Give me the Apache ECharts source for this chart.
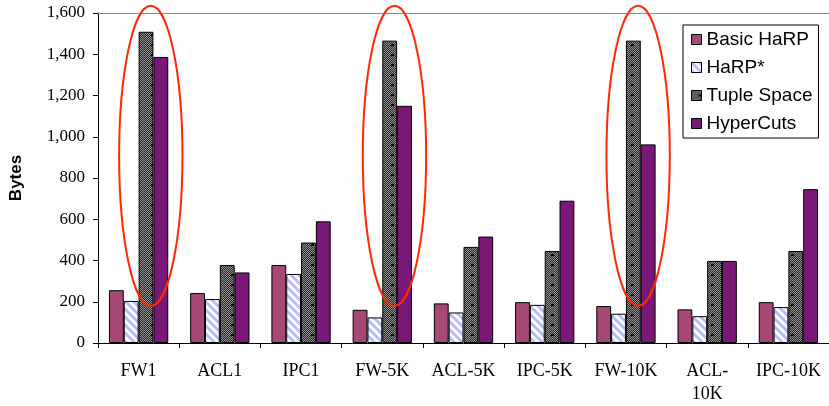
<!DOCTYPE html>
<html>
<head>
<meta charset="utf-8">
<script src="https://cdn.jsdelivr.net/npm/echarts@6/dist/echarts.min.js"></script>
<style>
html,body{margin:0;padding:0;background:#fff;}
#chart{width:829px;height:406px;}
</style>
</head>
<body>
<div id="chart"></div>
<script>
// ---- data ----
const categories = ['FW1', 'ACL1', 'IPC1', 'FW-5K', 'ACL-5K', 'IPC-5K', 'FW-10K', 'ACL-10K', 'IPC-10K'];
const seriesNames = ['Basic HaRP', 'HaRP*', 'Tuple Space', 'HyperCuts'];
const basicHarp  = [256, 242, 378, 161, 192, 198, 179, 163, 198];
const harpStar   = [204, 213, 335, 124, 148, 185, 142, 130, 174];
const tupleSpace = [1509, 378, 487, 1466, 466, 446, 1466, 398, 446];
const hyperCuts  = [1387, 342, 590, 1150, 516, 690, 963, 398, 746];
const yMin = 0, yMax = 1600, yStep = 200;
const highlightedGroups = ['FW1', 'FW-5K', 'FW-10K'];
const highlightRange = [180, 1635];
const wrappedLabels = {'ACL-10K': 'ACL-\n10K'};

// ---- patterns ----
function stripePattern() {
  const c = document.createElement('canvas');
  c.width = 8; c.height = 8;
  const g = c.getContext('2d');
  g.fillStyle = '#ffffff'; g.fillRect(0, 0, 8, 8);
  g.strokeStyle = '#b4bcff'; g.lineWidth = 3;
  [-8, 0, 8].forEach(o => { g.beginPath(); g.moveTo(o - 1, -1); g.lineTo(o + 9, 9); g.stroke(); });
  return {image: c, repeat: 'repeat'};
}
function checkerPattern() {
  const c = document.createElement('canvas');
  c.width = 16; c.height = 10;
  const g = c.getContext('2d');
  for (let x = 0; x < 16; x++) for (let y = 0; y < 10; y++) {
    g.fillStyle = (x + y) % 2 ? '#2c2c2c' : '#8e8e8e';
    g.fillRect(x, y, 1, 1);
  }
  g.fillStyle = '#000'; g.fillRect(7, 4, 3, 2);
  return {image: c, repeat: 'repeat'};
}

const colors = ['#a64876', stripePattern(), checkerPattern(), '#7a1877'];
const values = [basicHarp, harpStar, tupleSpace, hyperCuts];

const chart = echarts.init(document.getElementById('chart'));
const barSeries = seriesNames.map((n, i) => ({
  name: n,
  type: 'bar',
  data: values[i],
  barGap: '0%',
  barCategoryGap: '27%',
  itemStyle: {color: colors[i], borderColor: '#000', borderWidth: 1},
  emphasis: {disabled: true}
}));

const ellipseSeries = {
  type: 'custom',
  name: 'highlight',
  clip: false,
  z: 10,
  silent: true,
  data: highlightedGroups.map(g => [categories.indexOf(g), highlightRange[0], highlightRange[1]]),
  encode: {x: 0, y: [1, 2]},
  renderItem: function (params, api) {
    const top = api.coord([api.value(0), api.value(2)]);
    const bot = api.coord([api.value(0), api.value(1)]);
    const band = api.size([1, 0])[0];
    return {
      type: 'ellipse',
      shape: {cx: top[0] + band * 0.15, cy: (top[1] + bot[1]) / 2, rx: band * 0.39, ry: (bot[1] - top[1]) / 2},
      style: {fill: 'none', stroke: '#ff2a00', lineWidth: 2}
    };
  }
};

chart.setOption({
  animation: false,
  backgroundColor: '#fff',
  grid: {left: 95, top: 13, width: 738, height: 331, containLabel: false},
  legend: {
    data: seriesNames,
    orient: 'vertical',
    left: 683, top: 25,
    borderColor: '#000', borderWidth: 1,
    padding: [5, 6, 5, 8],
    itemGap: 9,
    itemWidth: 10, itemHeight: 10,
    icon: 'rect',
    itemStyle: {borderColor: '#000', borderWidth: 1},
    textStyle: {fontFamily: 'Liberation Sans', fontSize: 19, color: '#000'},
    backgroundColor: '#fff'
  },
  xAxis: [{
    type: 'category',
    data: categories,
    axisLine: {lineStyle: {color: '#000', width: 1}},
    axisTick: {show: true, length: 5, lineStyle: {color: '#000'}},
    axisLabel: {
      interval: 0, margin: 17, color: '#000',
      fontFamily: 'Liberation Serif', fontSize: 18, lineHeight: 23,
      formatter: v => wrappedLabels[v] || v
    }
  }, {
    type: 'category',
    data: categories,
    position: 'top',
    axisLine: {lineStyle: {color: '#8c8c8c', width: 1}},
    axisTick: {show: false},
    axisLabel: {show: false}
  }],
  yAxis: {
    type: 'value',
    min: yMin, max: yMax, interval: yStep,
    name: 'Bytes',
    nameLocation: 'middle',
    nameGap: 73,
    nameTextStyle: {fontFamily: 'Liberation Sans', fontWeight: 'bold', fontSize: 17, color: '#000'},
    axisLine: {show: true, lineStyle: {color: '#000'}},
    axisTick: {show: true, length: 5, lineStyle: {color: '#000'}},
    splitLine: {show: false},
    axisLabel: {
      color: '#000', margin: 13,
      fontFamily: 'Liberation Serif', fontSize: 17,
      formatter: v => v.toLocaleString('en-US')
    }
  },
  series: barSeries.concat([ellipseSeries])
});
</script>
</body>
</html>
